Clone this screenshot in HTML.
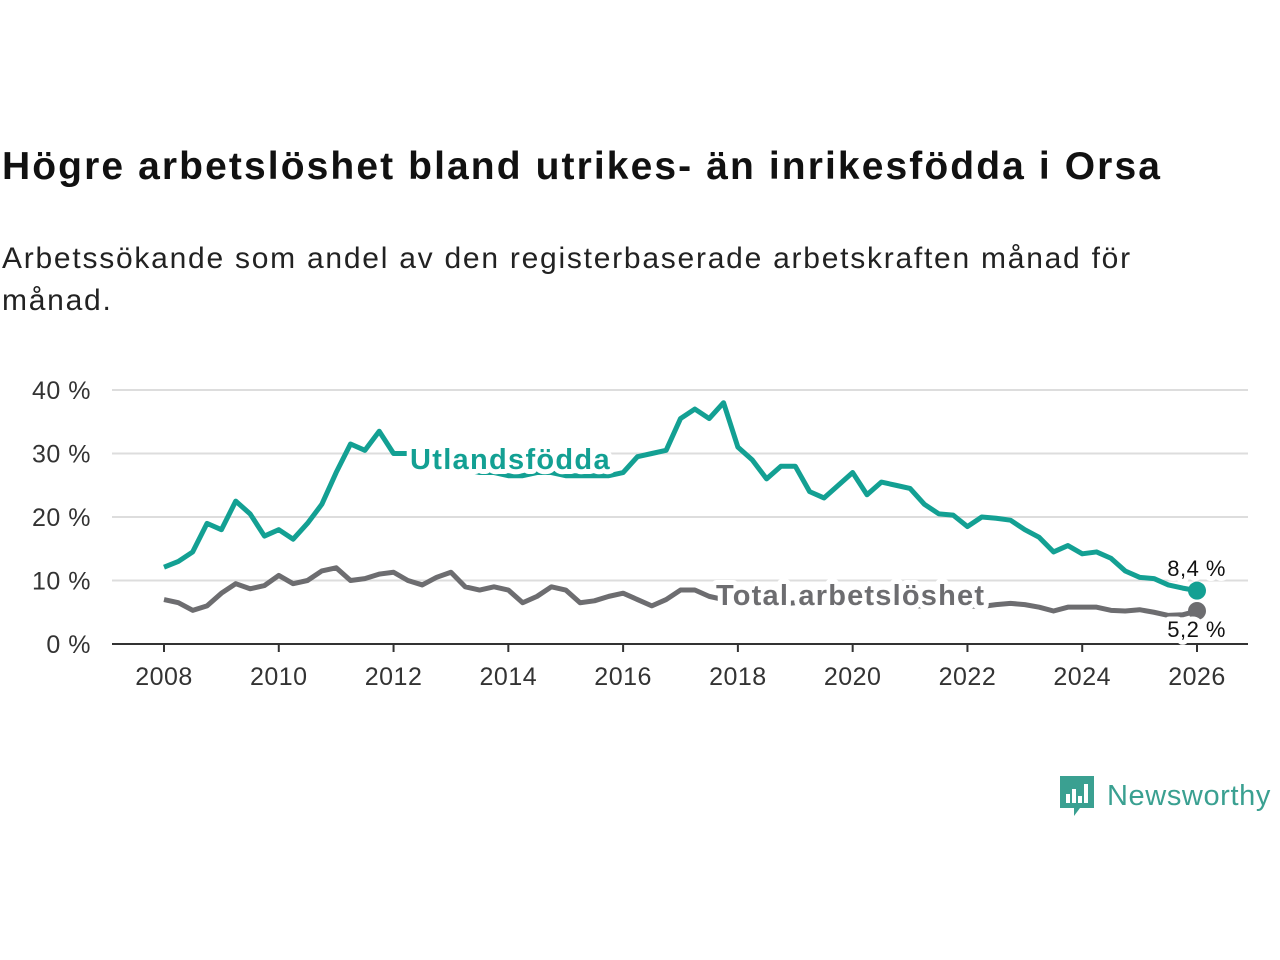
<!DOCTYPE html>
<html><head><meta charset="utf-8"><style>
body{margin:0;background:#fff;width:1280px;height:960px;overflow:hidden;font-family:"Liberation Sans",sans-serif}
#title{position:absolute;left:2px;top:145px;font-size:39px;font-weight:bold;color:#111;margin:0;letter-spacing:2.1px;white-space:nowrap}
#sub{position:absolute;left:2px;top:238px;font-size:30px;color:#222;line-height:42px;width:1185px;letter-spacing:1.75px}
svg{position:absolute;left:0;top:0}
</style></head><body>
<h1 id="title">Högre arbetslöshet bland utrikes- än inrikesfödda i Orsa</h1>
<div id="sub">Arbetssökande som andel av den registerbaserade arbetskraften månad för månad.</div>
<svg id="chart" width="1280" height="960"></svg>
<div style="position:absolute;left:1060px;top:774px;display:flex;align-items:center">
<svg width="34" height="44" style="position:static"><path d="M0 2h34v32h-14l-6 8v-8H0z" fill="#3aa091"/><rect x="6" y="20" width="4" height="9" fill="#fff"/><rect x="12" y="15" width="4" height="14" fill="#fff"/><rect x="18" y="22" width="4" height="7" fill="#fff"/><rect x="24" y="10" width="4" height="19" fill="#fff"/></svg>
<span style="font-size:29px;color:#3aa091;margin-left:13px;letter-spacing:0.6px">Newsworthy</span></div>
<script>
const startYear=2008, stepYears=0.25;
const xTicks=[2008,2010,2012,2014,2016,2018,2020,2022,2024,2026];
const yTicks=[0,10,20,30,40];
const utrikes=[12.1,13,14.5,19,18,22.5,20.5,17,18,16.5,19,22,27,31.5,30.5,33.5,30,30,
29,28.5,28,27.5,27,27,26.5,26.5,27,27,26.5,26.5,26.5,
26.5,27,29.5,30,30.5,35.5,37,35.5,38,31,29,26,28,28,24,23,25,27,23.5,25.5,25,24.5,22,20.5,20.3,18.5,20,19.8,19.5,18,16.8,14.5,15.5,14.2,14.5,13.5,11.5,10.5,10.3,9.3,8.8,8.4];
const total=[7.0,6.5,5.3,6,8,9.5,8.7,9.2,10.8,9.5,10,11.5,12,10,10.3,11,11.3,10,9.3,10.5,11.3,9,8.5,9,8.5,6.5,7.5,9,8.5,6.5,6.8,7.5,8,7,6,7,8.5,8.5,7.5,
7,7,6.8,6.5,6.3,6.5,6.5,6.3,6.5,6.8,6.5,6.3,6.2,6.0,6.0,6.2,6.3,6.0,
5.9,6.2,6.4,6.2,5.8,5.2,5.8,5.8,5.8,5.3,5.2,5.4,5.0,4.5,4.6,5.2];
const svg=document.getElementById('chart');const NS='http://www.w3.org/2000/svg';
const X=y=>164+(y-2008)*(1197-164)/18, Y=v=>644-v*(644-390)/40;
function mk(t,a,p){const e=document.createElementNS(NS,t);for(const k in a)e.setAttribute(k,a[k]);(p||svg).appendChild(e);return e;}
yTicks.forEach(v=>{
 const g=mk('line',{x1:112,x2:1248,y1:Y(v),y2:Y(v),stroke:v?'#ddd':'#333','stroke-width':2});
 
 
 const t=mk('text',{x:91,y:Y(v)+9,'text-anchor':'end','font-size':25,fill:'#333','letter-spacing':0.5});t.textContent=v+' %';
 
 
});
xTicks.forEach(y=>{
 const l=mk('line',{x1:X(y),x2:X(y),y1:644,y2:652,stroke:'#333','stroke-width':2});
 
 
 const t=mk('text',{x:X(y),y:685,'text-anchor':'middle','font-size':25,fill:'#333','letter-spacing':0.5});t.textContent=y;
 
 
});
function line(d,c,name){
 const p=mk('path',{d:d.map((v,i)=>(i?'L':'M')+X(startYear+i*stepYears)+' '+Y(v)).join(''),fill:'none',stroke:c,'stroke-width':5,'stroke-linejoin':'round'});
 
 
 const last=d[d.length-1];
 const c2=mk('circle',{cx:X(startYear+(d.length-1)*stepYears),cy:Y(last),r:9,fill:c});
 
 
}
line(total,'#6d6d70','total-line');
line(utrikes,'#13a093','utrikes-line');
function lab(x,y,s,c,anchor,w,name,sz,ls){const t=mk('text',{x:x,y:y,'font-size':sz,'font-weight':w,fill:c,'text-anchor':anchor,stroke:'#fff','stroke-width':10,'paint-order':'stroke','stroke-linejoin':'round','letter-spacing':ls});t.textContent=s;
 
 }
lab(410,469,'Utlandsfödda','#13a093','start','bold','utrikes-label',29,1.3);
lab(716,605,'Total arbetslöshet','#6d6d70','start','bold','total-label',29,1.2);
lab(1226,576,'8,4 %','#111','end','normal','utrikes-end-value',22,0.5);
lab(1226,637,'5,2 %','#111','end','normal','total-end-value',22,0.5);
</script>
</body></html>
